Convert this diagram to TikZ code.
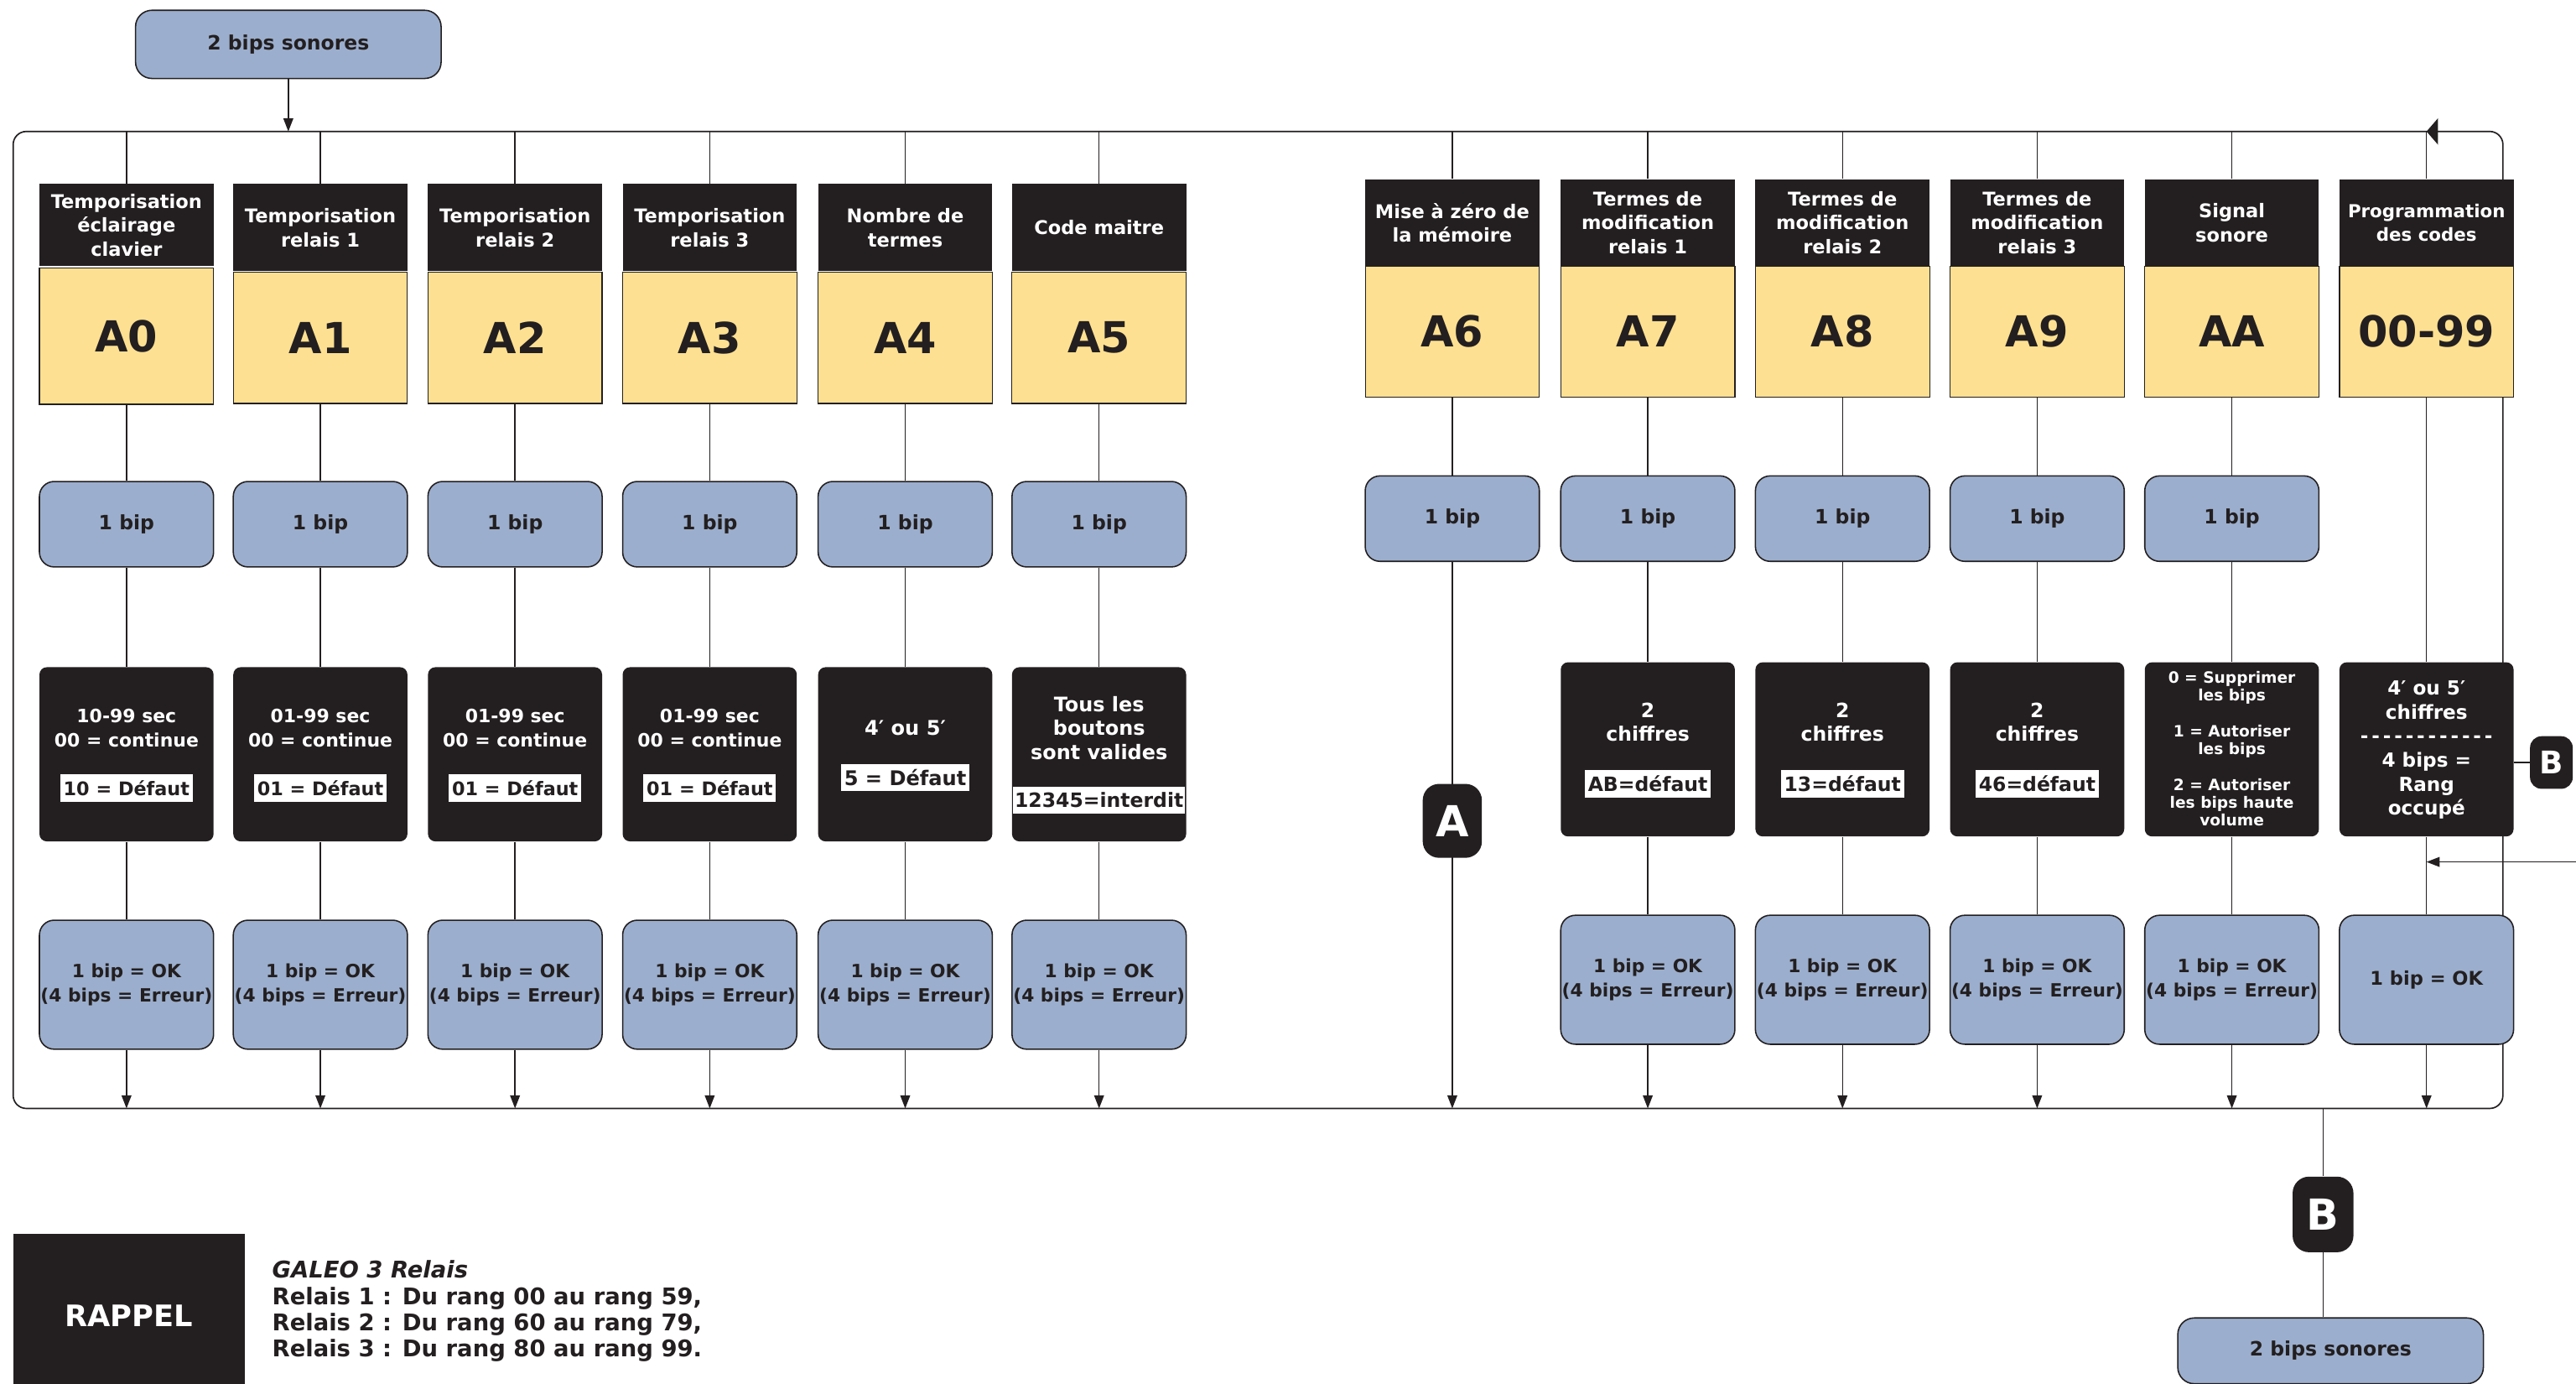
\documentclass[tikz,border=0pt]{standalone}
\usepackage{fontspec}
\setmainfont{DejaVu Sans}
\usetikzlibrary{arrows.meta}
\definecolor{bblue}{RGB}{155,174,205}
\definecolor{byel}{RGB}{253,224,145}
\definecolor{bblk}{RGB}{35,31,32}
\newcommand\fz[2]{\fontsize{#1}{#2}\selectfont\bfseries}
\newcommand\dsh{\mbox{-}}
\tikzset{
  ln/.style={draw=bblk, line width=0.75pt},
  arr/.style={ln, -{Triangle[length=8pt,width=6pt]}},
  frm/.style={draw=bblk, line width=0.85pt, rounded corners=8pt},
  hdr/.style={fill=bblk, text=white, inner sep=0pt, minimum width=106pt, align=center, font=\fz{11.5}{14.6}},
  codebox/.style={fill=byel, draw=bblk, line width=0.6pt, inner sep=0pt, minimum width=106pt, text=bblk, font=\fz{26}{30}},
  bipbox/.style={fill=bblue, draw=bblk, line width=0.8pt, rounded corners=9pt, minimum width=106pt, inner sep=0pt, align=center, text=bblk},
  onebip/.style={bipbox, minimum height=52pt, font=\fz{12}{14}},
  okbox/.style={bipbox, minimum height=78.5pt, font=\fz{11.1}{15}},
  blk/.style={fill=bblk, rounded corners=4.5pt, minimum width=106pt, minimum height=106pt, inner sep=0pt},
  wt/.style={text=white, align=center, inner sep=0pt},
  dflt/.style={fill=white, text=bblk, inner xsep=2pt, inner ysep=0pt, minimum height=16.5pt},
  badge/.style={fill=bblk, text=white, inner sep=0pt, rounded corners=10pt, font=\fz{26}{28}},
  note/.style={anchor=base west, inner sep=0pt, text=bblk, font=\fz{14}{16}},
}
\begin{document}
\begin{tikzpicture}[x=1pt,y=-1pt]
\useasboundingbox (0,0) rectangle (1568,842);

% outer loop frame
\draw[frm] (8,80) rectangle (1523.5,674.5);

% start box
\node[bipbox, minimum width=186pt, minimum height=41.5pt, rounded corners=10pt, font=\fz{12}{14}] (top) at (175.5,27) {2 bips sonores};
\coordinate (tin) at (175.5,80);

% ---------- left group ----------
\node[hdr, minimum height=50pt] (h0) at (77,137) {Temporisation\\éclairage\\clavier};
\node[codebox, minimum height=83pt] (c0) at (77,204.5) {A0};
\node[hdr, minimum height=53pt] (h1) at (195,138.5) {Temporisation\\relais 1};
\node[codebox, minimum height=80pt] (c1) at (195,205.5) {A1};
\node[hdr, minimum height=53pt] (h2) at (313.5,138.5) {Temporisation\\relais 2};
\node[codebox, minimum height=80pt] (c2) at (313.5,205.5) {A2};
\node[hdr, minimum height=53pt] (h3) at (432,138.5) {Temporisation\\relais 3};
\node[codebox, minimum height=80pt] (c3) at (432,205.5) {A3};
\node[hdr, minimum height=53pt] (h4) at (551,138.5) {Nombre de\\termes};
\node[codebox, minimum height=80pt] (c4) at (551,205.5) {A4};
\node[hdr, minimum height=53pt] (h5) at (669,138.5) {Code maitre};
\node[codebox, minimum height=80pt] (c5) at (669,205.5) {A5};

\foreach \i/\x in {0/77,1/195,2/313.5,3/432,4/551,5/669} {
  \node[onebip] (p\i) at (\x,319) {1 bip};
  \node[blk] (k\i) at (\x,459) {};
  \node[okbox] (o\i) at (\x,599.2) {1 bip = OK\\(4 bips = Erreur)};
  \coordinate (t\i) at (\x,80);
  \coordinate (b\i) at (\x,674.5);
}
\foreach \i/\x/\d in {0/77/10,1/195/01,2/313.5/01,3/432/01} {
  \node[wt, font=\fz{11.2}{15}] (kt\i) at (\x,443) {\d-99 sec\\00 = continue};
  \node[dflt, font=\fz{11.4}{14}] (d\i) at (\x,479.5) {\d{} = Défaut};
}
\node[wt, font=\fz{12.3}{14.7}] (kt4) at (551,443) {4′ ou 5′};
\node[dflt, font=\fz{12.3}{14}] (d4) at (551,473) {5 = Défaut};
\node[wt, font=\fz{12.2}{14.6}] (kt5) at (669,443) {Tous les\\boutons\\sont valides};
\node[dflt, font=\fz{12}{14}, inner xsep=1pt] (d5) at (669,487) {12345=interdit};

% ---------- right group ----------
\node[hdr, minimum height=53pt] (h6) at (884,135.5) {Mise à zéro de\\la mémoire};
\node[hdr, minimum height=53pt] (h7) at (1003,135.5) {Termes de\\modification\\relais 1};
\node[hdr, minimum height=53pt] (h8) at (1121.5,135.5) {Termes de\\modification\\relais 2};
\node[hdr, minimum height=53pt] (h9) at (1240,135.5) {Termes de\\modification\\relais 3};
\node[hdr, minimum height=53pt] (h10) at (1358.5,135.5) {Signal\\sonore};
\node[hdr, minimum height=53pt, font=\fz{10.9}{14.6}] (h11) at (1477,135.5) {Programmation\\des codes};
\foreach \i/\x/\cd in {6/884/A6,7/1003/A7,8/1121.5/A8,9/1240/A9,10/1358.5/AA,11/1477/00-99} {
  \node[codebox, minimum height=79.5pt] (c\i) at (\x,201.75) {\cd};
  \coordinate (t\i) at (\x,80);
  \coordinate (b\i) at (\x,674.5);
}
\foreach \i/\x in {6/884,7/1003,8/1121.5,9/1240,10/1358.5} {
  \node[onebip] (p\i) at (\x,315.6) {1 bip};
}
\foreach \i/\x in {7/1003,8/1121.5,9/1240,10/1358.5,11/1477} {
  \node[blk] (k\i) at (\x,456) {};
}
\foreach \i/\x in {7/1003,8/1121.5,9/1240,10/1358.5} {
  \node[okbox] (o\i) at (\x,596.2) {1 bip = OK\\(4 bips = Erreur)};
}
\node[okbox, font=\fz{11.5}{15}] (o11) at (1477,596.2) {1 bip = OK};

\foreach \i/\x/\d in {7/1003/AB,8/1121.5/13,9/1240/46} {
  \node[wt, font=\fz{12}{14.2}] (kt\i) at (\x,439.6) {2\\chiffres};
  \node[dflt, font=\fz{12}{14}] (d\i) at (\x,477) {\d=défaut};
}
\node[wt, font=\fz{9.5}{10.9}] (kt10) at (1358.5,455.6) {0 = Supprimer\\les bips\\[10.9pt]1 = Autoriser\\les bips\\[10.9pt]2 = Autoriser\\les bips haute\\volume};
\node[wt, font=\fz{11.8}{14.64}] (kt11) at (1477,456.4) {4′ ou 5′\\chiffres\\\dsh\,\dsh\,\dsh\,\dsh\,\dsh\,\dsh\,\dsh\,\dsh\,\dsh\,\dsh\,\dsh\,\dsh\\4 bips =\\Rang\\occupé};

% ---------- connectors ----------
\draw[arr] (top.south) -- (tin);
\foreach \i in {0,...,5,7,8,9,10} {
  \draw[ln] (t\i) -- (h\i.north);
  \draw[ln] (c\i.south) -- (p\i.north);
  \draw[ln] (p\i.south) -- (k\i.north);
  \draw[ln] (k\i.south) -- (o\i.north);
  \draw[arr] (o\i.south) -- (b\i);
}
\draw[ln] (t6) -- (h6.north);
\draw[ln] (c6.south) -- (p6.north);
\draw[arr] (p6.south) -- (b6);
\draw[ln] (t11) -- (h11.north);
\draw[ln] (c11.south) -- (k11.north);
\draw[ln] (k11.south) -- (o11.north);
\draw[arr] (o11.south) -- (b11);
\coordinate (t11r) at (1491,80);
\draw[ln, -{Triangle[length=7pt,width=16pt]}] (t11r) -- (t11);
\coordinate (rin) at (1568,524.5);
\coordinate (j11) at (1477,524.5);
\draw[arr] (rin) -- (j11);

% ---------- badges ----------
\node[badge, minimum width=36pt, minimum height=45pt] (bA) at (884,499.5) {A};
\node[badge, minimum width=26pt, minimum height=32pt, rounded corners=7pt, font=\fz{19}{20}] (bR) at (1553,464) {B};
\draw[ln] (k11.east |- bR.west) -- (bR.west);
\node[badge, minimum width=37pt, minimum height=46pt] (bB) at (1414,739) {B};
\coordinate (fb) at (1414,674.5);
\node[bipbox, minimum width=186pt, minimum height=40pt, rounded corners=10pt, font=\fz{12}{14}] (bot) at (1418.6,822) {2 bips sonores};
\draw[ln] (fb) -- (bB.north);
\draw[ln] (bB.south) -- (bB.south |- bot.north);

% ---------- reminder ----------
\node[fill=bblk, minimum width=141pt, minimum height=99pt, inner sep=0pt, text=white, font=\fz{18}{20}] (rap) at (78.5,800.5) {RAPPEL};
\node[note] (n1) at (165.5,777.7) {\itshape GALEO 3 Relais};
\node[note] (n2) at (165.5,793.8) {Relais 1 : Du rang 00 au rang 59,};
\node[note] (n3) at (165.5,809.7) {Relais 2 : Du rang 60 au rang 79,};
\node[note] (n4) at (165.5,825.6) {Relais 3 : Du rang 80 au rang 99.};
\end{tikzpicture}
\end{document}
